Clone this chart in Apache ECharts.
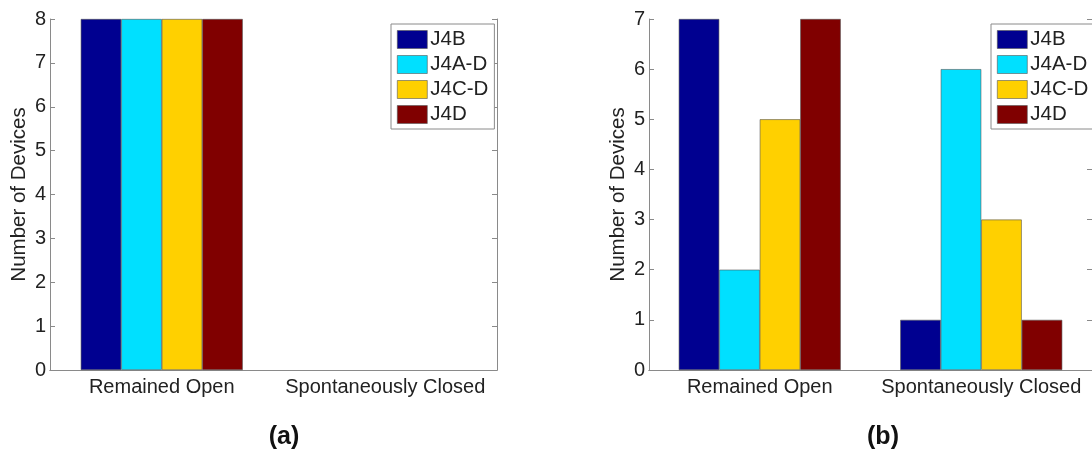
<!DOCTYPE html>
<html>
<head>
<meta charset="utf-8">
<script src="https://cdn.jsdelivr.net/npm/echarts@6/dist/echarts.min.js"></script>
<style>
html,body{margin:0;padding:0;background:#fff;}
#chart{width:1092px;height:453px;}
</style>
</head>
<body>
<div id="chart"></div>
<script>
var categories = ['Remained Open', 'Spontaneously Closed'];
var seriesNames = ['J4B', 'J4A-D', 'J4C-D', 'J4D'];
var colors = ['#000090', '#00E0FF', '#FFD000', '#800000'];
// panel (a)
var a_J4B  = [8, 0];
var a_J4AD = [8, 0];
var a_J4CD = [8, 0];
var a_J4D  = [8, 0];
// panel (b)
var b_J4B  = [7, 1];
var b_J4AD = [2, 6];
var b_J4CD = [5, 3];
var b_J4D  = [7, 1];
var yTicksA = {min: 0, max: 8, interval: 1};
var yTicksB = {min: 0, max: 7, interval: 1};
var panelLabels = ['(a)', '(b)'];

var FONT = '"Liberation Sans", Arial, sans-serif';
var AX = '#8a8a8a';
var TXT = '#222';

function xAxes(gi) {
  return [{
    type: 'category', gridIndex: gi, data: categories, position: 'bottom',
    axisLine: {lineStyle: {color: AX, width: 1}},
    axisTick: {inside: true, alignWithLabel: true, length: 5, lineStyle: {color: AX}},
    axisLabel: {interval: 0, fontFamily: FONT, fontSize: 20, color: TXT, margin: 7}
  }, {
    type: 'category', gridIndex: gi, data: categories, position: 'top',
    axisLine: {lineStyle: {color: AX, width: 1}},
    axisTick: {inside: true, alignWithLabel: true, length: 5, lineStyle: {color: AX}},
    axisLabel: {show: false}
  }];
}
function yAxes(gi, t) {
  return [{
    type: 'value', gridIndex: gi, min: t.min, max: t.max, interval: t.interval, position: 'left',
    name: 'Number of Devices', nameLocation: 'middle', nameRotate: 90, nameGap: 20,
    nameTextStyle: {fontFamily: FONT, fontSize: 20.5, color: TXT},
    axisLine: {show: true, lineStyle: {color: AX, width: 1}},
    axisTick: {show: true, inside: true, length: 5, lineStyle: {color: AX}},
    axisLabel: {fontFamily: FONT, fontSize: 20, color: TXT, margin: 4},
    splitLine: {show: false}
  }, {
    type: 'value', gridIndex: gi, min: t.min, max: t.max, interval: t.interval, position: 'right',
    axisLine: {show: true, lineStyle: {color: AX, width: 1}},
    axisTick: {show: true, inside: true, length: 5, lineStyle: {color: AX}},
    axisLabel: {show: false},
    splitLine: {show: false}
  }];
}
function bars(gi, arrs) {
  return arrs.map(function (d, i) {
    return {
      type: 'bar', name: seriesNames[i], xAxisIndex: gi * 2, yAxisIndex: gi * 2,
      data: d.map(function (v) {
        return v === 0 ? {value: v, itemStyle: {borderWidth: 0}} : v;
      }),
      barWidth: 40.5, barGap: '0%',
      itemStyle: {color: colors[i], borderColor: '#555', borderWidth: 0.6},
      emphasis: {disabled: true}
    };
  });
}
function legend(left) {
  return {
    orient: 'vertical', left: left, top: 24, data: seriesNames,
    icon: 'rect', itemWidth: 30, itemHeight: 18, itemGap: 4,
    padding: [5, 6, 4, 6],
    borderColor: AX, borderWidth: 1, backgroundColor: '#fff',
    itemStyle: {borderWidth: 0.6, borderColor: '#555'},
    textStyle: {fontFamily: FONT, fontSize: 20.5, color: TXT, padding: [0, 0, 0, -2]},
    selectedMode: false
  };
}

var chart = echarts.init(document.getElementById('chart'), null, {renderer: 'canvas'});
chart.setOption({
  animation: false,
  backgroundColor: '#fff',
  grid: [
    {left: 50, top: 19, width: 447, height: 351},
    {left: 649, top: 19, width: 447, height: 351}
  ],
  xAxis: xAxes(0).concat(xAxes(1)),
  yAxis: yAxes(0, yTicksA).concat(yAxes(1, yTicksB)),
  legend: [legend(391), legend(991)],
  series: bars(0, [a_J4B, a_J4AD, a_J4CD, a_J4D]).concat(bars(1, [b_J4B, b_J4AD, b_J4CD, b_J4D])),
  graphic: [
    {type: 'text', x: 284, y: 437, style: {text: panelLabels[0], font: 'bold 25px ' + FONT, fill: '#111', align: 'center', verticalAlign: 'middle'}},
    {type: 'text', x: 883, y: 437, style: {text: panelLabels[1], font: 'bold 25px ' + FONT, fill: '#111', align: 'center', verticalAlign: 'middle'}}
  ]
});
</script>
</body>
</html>
